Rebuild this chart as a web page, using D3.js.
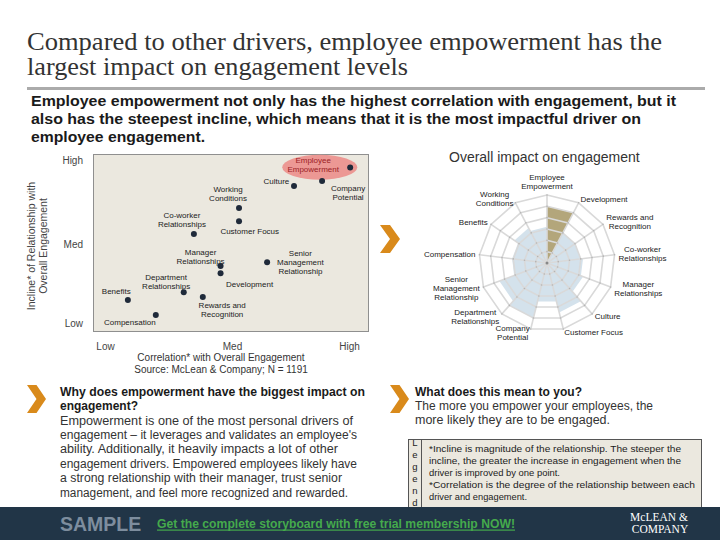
<!DOCTYPE html>
<html><head><meta charset="utf-8">
<script src="https://cdn.jsdelivr.net/npm/d3@7"></script>
<style>
body{margin:0;background:#fff}
svg{display:block}
text{font-family:"Liberation Sans",Arial,sans-serif}
</style>
</head><body><svg id="c" width="720" height="540"></svg>
<script>
// ---------------- DATA ----------------
const drivers = ["Employee Empowerment","Development","Rewards and Recognition","Co-worker Relationships",
  "Manager Relationships","Culture","Customer Focus","Company Potential","Department Relationships",
  "Senior Management Relationship","Compensation","Benefits","Working Conditions"];
const labelLines = [["Employee","Empowerment"],["Development"],["Rewards and","Recognition"],["Co-worker","Relationships"],
  ["Manager","Relationships"],["Culture"],["Customer Focus"],["Company","Potential"],["Department","Relationships"],
  ["Senior","Management","Relationship"],["Compensation"],["Benefits"],["Working","Conditions"]];
// scatter: correlation (x) and incline (y) on a Low=1 / Med=2 / High=3 scale
const correlation = [3.01, 1.91, 1.77, 1.70, 1.91, 2.53, 2.06, 2.77, 1.62, 2.30, 1.40, 1.18, 2.06];
const incline     = [2.91, 1.63, 1.33, 2.12, 1.72, 2.69, 2.27, 2.75, 1.39, 1.77, 1.10, 1.29, 2.43];
// radar: overall impact (rings 0..6)
const impact      = [5.0, 3.0, 3.0, 3.2, 3.4, 4.5, 3.5, 5.0, 4.5, 3.1, 3.1, 3.5, 3.2];
const levelNames  = ["Low","Med","High"];
const levelValues = [1, 2, 3];
const ringValues  = [1, 2, 3, 4, 5, 6];
const highlight   = "Employee Empowerment";

// label offsets (layout only) for scatter labels, relative to the point
const scatterLabelOffset = {
  "Employee Empowerment":[-37,-4.7], "Development":[29,14], "Rewards and Recognition":[19.4,11.3],
  "Co-worker Relationships":[-12,-15.6], "Manager Relationships":[-20,-11], "Culture":[-17.6,-2.4],
  "Customer Focus":[10.7,13], "Company Potential":[26,10], "Department Relationships":[-17.6,-12.6],
  "Senior Management Relationship":[33.3,-5.7], "Compensation":[-26,10.3], "Benefits":[-11.6,-5.6],
  "Working Conditions":[-11,-15.4]
};

const svg = d3.select("#c");
const fit = (sel, widths) => sel.each(function(d,i){ if(widths[i]) d3.select(this).attr("textLength",widths[i]).attr("lengthAdjust","spacingAndGlyphs"); });

// ---------------- TITLE ----------------
const title = ["Compared to other drivers, employee empowerment has the","largest impact on engagement levels"];
fit(svg.selectAll("text.title").data(title).join("text").attr("class","title")
  .attr("x",27).attr("y",(d,i)=>50+i*25).text(d=>d)
  .style("font-family","'Liberation Serif',serif").style("font-size","25px").attr("fill","#333"), [635, 381]);
svg.append("rect").attr("x",27).attr("y",87).attr("width",678).attr("height",3).attr("fill","#ababab");

const sub = ["Employee empowerment not only has the highest correlation with engagement, but it",
  "also has the steepest incline, which means that it is the most impactful driver on","employee engagement."];
fit(svg.selectAll("text.sub").data(sub).join("text").attr("class","sub")
  .attr("x",31).attr("y",(d,i)=>106+i*18).text(d=>d)
  .style("font-size","14.5px").style("font-weight","bold").attr("fill","#1a1a1a"), [645, 610, 174]);

// ---------------- SCATTER ----------------
const x = d3.scaleLinear().domain(levelValues).range([105,232,349]);
const y = d3.scaleLinear().domain(levelValues).range([323,244,160]);
svg.append("rect").attr("x",93.5).attr("y",154.5).attr("width",275).attr("height",177)
  .attr("fill","#ebe8df").attr("stroke","#8f8f8f").attr("stroke-width",1);

const yAx = svg.append("g").attr("transform","translate(83,0)")
  .call(d3.axisLeft(y).tickValues(levelValues).tickFormat((d,i)=>levelNames[i]).tickSize(0).tickPadding(0));
const xAx = svg.append("g").attr("transform","translate(0,343)")
  .call(d3.axisBottom(x).tickValues(levelValues).tickFormat((d,i)=>levelNames[i]).tickSize(0).tickPadding(0));
[yAx,xAx].forEach(g=>{ g.select(".domain").remove();
  g.selectAll("text").style("font-family","'Liberation Sans',Arial,sans-serif").style("font-size","10px").attr("fill","#444"); });

svg.append("text").attr("transform","translate(35,246) rotate(-90)").attr("text-anchor","middle")
  .style("font-size","10.5px").attr("fill","#444").text("Incline* of Relationship with");
svg.append("text").attr("transform","translate(47,246) rotate(-90)").attr("text-anchor","middle")
  .style("font-size","10.5px").attr("fill","#444").text("Overall Engagement");
svg.append("text").attr("x",221).attr("y",360.5).attr("text-anchor","middle").style("font-size","10px").attr("fill","#333")
  .text("Correlation* with Overall Engagement");
svg.append("text").attr("x",221).attr("y",373).attr("text-anchor","middle").style("font-size","10px").attr("fill","#333")
  .text("Source: McLean & Company; N = 1191");

const pts = drivers.map((d,i)=>({name:d, lines:labelLines[i], cx:x(correlation[i]), cy:y(incline[i])}));
const hp = pts.find(p=>p.name===highlight);
svg.append("ellipse").attr("cx",hp.cx-30.4).attr("cy",hp.cy-0.3).attr("rx",37.5).attr("ry",12.5).attr("fill","#ec9894");

const lab = svg.append("g").selectAll("text").data(pts).join("text")
  .attr("text-anchor","middle").style("font-size","8px")
  .attr("fill",d=>d.name===highlight?"#9b2226":"#222");
lab.each(function(d){
  const o = scatterLabelOffset[d.name];
  d3.select(this).selectAll("tspan").data(d.lines).join("tspan")
    .attr("x",d.cx+o[0]).attr("y",(l,j)=>d.cy+o[1]+j*9).text(l=>l);
});
svg.append("g").selectAll("circle").data(pts).join("circle")
  .attr("cx",d=>d.cx).attr("cy",d=>d.cy).attr("r",3).attr("fill","#1f2a3a");

// chevrons
const chev = (x0,y0,w,h)=>`M${x0},${y0}L${x0+w*0.5},${y0}L${x0+w},${y0+h/2}L${x0+w*0.5},${y0+h}L${x0},${y0+h}L${x0+w*0.5},${y0+h/2}Z`;
[[380,225,20,28],[27,385,19,28],[390,385,19,28]].forEach(c=>svg.append("path").attr("d",chev(...c)).attr("fill","#d98a1b"));

// ---------------- RADAR ----------------
const cx0 = 547, cy0 = 263, R = 68, n = drivers.length;
const rr = d3.scaleLinear().domain([0,6]).range([0,R]);
const ang = i => i*2*Math.PI/n;
const pt = (i,v)=>[cx0+rr(v)*Math.sin(ang(i)), cy0-rr(v)*Math.cos(ang(i))];
svg.append("text").attr("x",449).attr("y",162).style("font-size","14px").attr("fill","#333").text("Overall impact on engagement");

const rg = svg.append("g");
rg.selectAll("path.w").data(impact).join("path").attr("class","w")
  .attr("d",(v,i)=>"M"+[[cx0,cy0],pt(i,v),pt(i+1,v)].map(p=>p.join(",")).join("L")+"Z")
  .attr("fill",(v,i)=>drivers[i]===highlight?"#b3a67b":"#d4e2ec");
rg.selectAll("path.ring").data(ringValues).join("path").attr("class","ring")
  .attr("d",v=>"M"+d3.range(n).map(i=>pt(i,v).join(",")).join("L")+"Z")
  .attr("fill","none").attr("stroke","#d9d9d9").attr("stroke-width",1.6);
rg.selectAll("line.sp").data(d3.range(n)).join("line").attr("class","sp")
  .attr("x1",cx0).attr("y1",cy0).attr("x2",i=>pt(i,6)[0]).attr("y2",i=>pt(i,6)[1])
  .attr("stroke","#d9d9d9").attr("stroke-width",1.6);
const dots = [];
d3.range(n).forEach(i=>ringValues.forEach(v=>dots.push(pt(i,v))));
rg.selectAll("circle").data(dots).join("circle").attr("cx",d=>d[0]).attr("cy",d=>d[1]).attr("r",0.8).attr("fill","#b4b4b4");
rg.append("circle").attr("cx",cx0).attr("cy",cy0).attr("r",1.5).attr("fill","#888");

const rl = svg.append("g").selectAll("text").data(drivers).join("text")
  .attr("text-anchor","middle").style("font-size","8px").attr("fill","#222");
rl.each(function(d,i){
  const s = Math.sin(ang(i)), c = Math.cos(ang(i));
  const px = cx0+(R+4)*s, py = cy0-(R+4)*c;
  const t = d3.select(this);
  const lines = labelLines[i];
  const sp = t.selectAll("tspan").data(lines).join("tspan").text(l=>l);
  let W = 0; sp.each(function(){ W = Math.max(W,this.getComputedTextLength()); });
  const H = lines.length*9;
  const ax = s>0.15 ? px+W/2 : s<-0.15 ? px-W/2 : px;
  const top = (Math.abs(s)<=0.15 && c>0) ? py-H : py-H/2;
  sp.attr("x",ax).attr("y",(l,j)=>top+7+j*9);
});

// ---------------- BOTTOM TEXT ----------------
const why = ["Why does empowerment have the biggest impact on","engagement?"];
fit(svg.selectAll("text.why").data(why).join("text").attr("class","why").attr("x",60).attr("y",(d,i)=>396+i*14)
  .style("font-size","12.7px").style("font-weight","bold").attr("fill","#1a1a1a").text(d=>d), [305, 78]);
const body = ["Empowerment is one of the most personal drivers of","engagement \u2013 it leverages and validates an employee's",
  "ability. Additionally, it heavily impacts a lot of other","engagement drivers. Empowered employees likely have",
  "a strong relationship with their manager, trust senior","management, and feel more recognized and rewarded."];
fit(svg.selectAll("text.body").data(body).join("text").attr("class","body").attr("x",60).attr("y",(d,i)=>424.5+i*14.45)
  .style("font-size","12.5px").attr("fill","#333").text(d=>d), [293, 297, 278, 297, 282, 288]);

fit(svg.selectAll("text.what").data(["What does this mean to you?"]).join("text").attr("class","what")
  .attr("x",415).attr("y",396).style("font-size","12.7px").style("font-weight","bold").attr("fill","#1a1a1a").text(d=>d), [167]);
const mean = ["The more you empower your employees, the","more likely they are to be engaged."];
fit(svg.selectAll("text.mean").data(mean).join("text").attr("class","mean").attr("x",415).attr("y",(d,i)=>410+i*13.7)
  .style("font-size","12.5px").attr("fill","#333").text(d=>d), [238, 195]);

// legend box
svg.append("rect").attr("x",408.5).attr("y",439.5).attr("width",293).attr("height",80).attr("fill","#ebe8df").attr("stroke","#555");
svg.append("line").attr("x1",421.5).attr("x2",421.5).attr("y1",439.5).attr("y2",510).attr("stroke","#555");
svg.selectAll("text.lg").data("Legend".split("")).join("text").attr("class","lg").attr("x",415).attr("y",(d,i)=>446+i*11.9)
  .attr("text-anchor","middle").style("font-size","9.5px").attr("fill","#222").text(d=>d);
const notes = ["*Incline is magnitude of the relationship. The steeper the","incline, the greater the increase in engagement when the",
  "driver is improved by one point.","*Correlation is the degree of the relationship between each","driver and engagement."];
fit(svg.selectAll("text.note").data(notes).join("text").attr("class","note").attr("x",429).attr("y",(d,i)=>452+i*12)
  .style("font-size","9.4px").attr("fill","#222").text(d=>d), [252, 252, 131, 266, 98]);

// ---------------- FOOTER ----------------
svg.append("rect").attr("x",0).attr("y",507).attr("width",720).attr("height",33).attr("fill","#213547");
svg.append("text").attr("x",60).attr("y",531).style("font-size","19.5px").style("font-weight","bold").attr("fill","#7d8d9e").text("SAMPLE");
svg.append("text").attr("x",157).attr("y",527.5).style("font-size","12px").style("font-weight","bold").attr("fill","#45aa4c")
  .attr("textLength",358).attr("lengthAdjust","spacingAndGlyphs")
  .text("Get the complete storyboard with free trial membership NOW!");
svg.append("rect").attr("x",157).attr("y",529.5).attr("width",358).attr("height",1.2).attr("fill","#45aa4c");
svg.append("text").attr("x",659).attr("y",521).attr("text-anchor","middle").style("font-family","'Liberation Serif',serif")
  .style("font-size","11.5px").attr("fill","#fff").text("McLEAN &");
svg.append("text").attr("x",660).attr("y",533).attr("text-anchor","middle").style("font-family","'Liberation Serif',serif")
  .style("font-size","11.5px").attr("fill","#fff").text("COMPANY");
</script>
</body></html>
